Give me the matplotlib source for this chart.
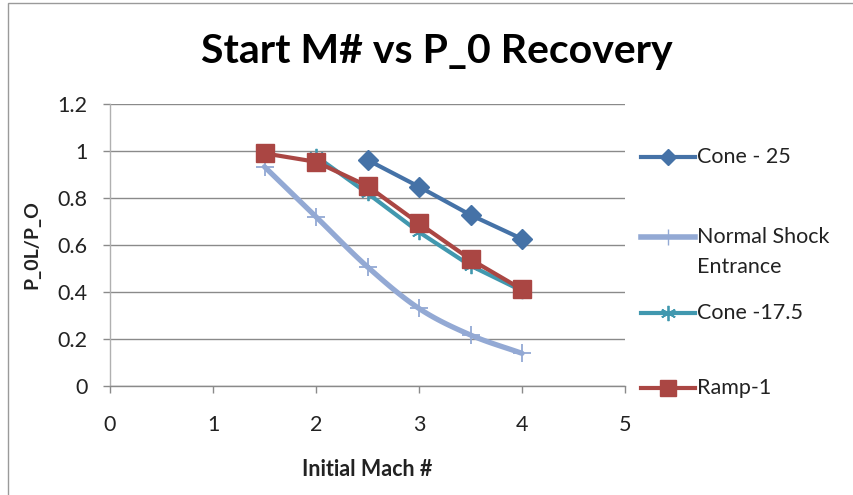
import numpy as np
import matplotlib
matplotlib.use("Agg")
import matplotlib.pyplot as plt
from matplotlib.lines import Line2D

# ---- data ----
cone25_x = [2.5, 3, 3.5, 4]
cone25_y = [0.962, 0.848, 0.728, 0.626]
normal_x = [1.5, 2, 2.5, 3, 3.5, 4]
normal_y = [0.933, 0.72, 0.507, 0.33, 0.217, 0.139]
cone175_x = [2, 2.5, 3, 3.5, 4]
cone175_y = [0.978, 0.82, 0.655, 0.512, 0.405]
ramp_x = [1.5, 2, 2.5, 3, 3.5, 4]
ramp_y = [0.99, 0.954, 0.851, 0.692, 0.539, 0.411]

series_names = ["Cone - 25", "Normal Shock\nEntrance", "Cone -17.5", "Ramp-1"]
x_ticks = [0, 1, 2, 3, 4, 5]
y_ticks = [0, 0.2, 0.4, 0.6, 0.8, 1, 1.2]
y_ticklabels = ["0", "0.2", "0.4", "0.6", "0.8", "1", "1.2"]

C_BLUE = "#4572A7"
C_LIGHT = "#93A9D4"
C_TEAL = "#4198AF"
C_RED = "#AA4643"
GRID = "#8A8A8A"

FONT = ["Lato", "DejaVu Sans"]
plt.rcParams['font.family'] = FONT
TXT = "#222222"


def smooth(x, y, n=20):
    # Catmull-Rom style rendering of a smoothed line through the data points
    x = np.asarray(x, float); y = np.asarray(y, float)
    px = np.concatenate([[2 * x[0] - x[1]], x, [2 * x[-1] - x[-2]]])
    py = np.concatenate([[2 * y[0] - y[1]], y, [2 * y[-1] - y[-2]]])
    ox, oy = [], []
    t = np.linspace(0, 1, n)
    for i in range(1, len(px) - 2):
        p0, p1, p2, p3 = [np.array([px[j], py[j]]) for j in (i - 1, i, i + 1, i + 2)]
        c = 0.5 * (2 * p1[:, None] + (-p0 + p2)[:, None] * t +
                   (2 * p0 - 5 * p1 + 4 * p2 - p3)[:, None] * t ** 2 +
                   (-p0 + 3 * p1 - 3 * p2 + p3)[:, None] * t ** 3)
        ox.extend(c[0]); oy.extend(c[1])
    return ox, oy


W, H = 854, 495
fig = plt.figure(figsize=(W / 100, H / 100), dpi=100)
L, R, T, B = 110, 625, 104, 386
ax = fig.add_axes([L / W, 1 - B / H, (R - L) / W, (B - T) / H])

ax.set_xlim(0, 5)
ax.set_ylim(0, 1.2)
ax.set_xticks(x_ticks)
ax.set_yticks(y_ticks)
ax.set_yticklabels(y_ticklabels)
ax.yaxis.grid(True, color=GRID, linewidth=1.0)
ax.set_axisbelow(True)
for s in ["top", "right"]:
    ax.spines[s].set_visible(False)
ax.spines["bottom"].set_color(GRID)
ax.spines["left"].set_color("#B0B0B0")
for s in ["left", "bottom"]:
    ax.spines[s].set_linewidth(1.0)
ax.tick_params(axis="both", colors=GRID, length=5, width=1, labelsize=15.5,
               labelcolor=TXT)
ax.tick_params(axis="y", pad=11)
ax.tick_params(axis="x", pad=16)

# series
sx, sy = smooth(normal_x, normal_y)
ax.plot(sx, sy, color=C_LIGHT, lw=3.8, solid_capstyle="round", zorder=2)
ax.plot(normal_x, normal_y, ls="none", marker="+", ms=13, mew=1.3, color=C_LIGHT, zorder=2)
ax.plot(cone175_x, cone175_y, color=C_TEAL, lw=3, marker=(6, 2, 0), ms=11, mew=1.3, zorder=3)
ax.plot(ramp_x, ramp_y, color=C_RED, lw=3, marker="s", ms=13, zorder=4)
ax.plot(cone25_x, cone25_y, color=C_BLUE, lw=3, marker="D", ms=10, zorder=5)

ax.set_xlabel("Initial Mach #", fontsize=15.5, fontweight="bold", color=TXT, va="center")
ax.xaxis.set_label_coords(0.5, (B - 470) / (B - T))
ax.set_ylabel("P_0L/P_O", fontsize=14, fontweight="bold", color=TXT, va="center")
ax.yaxis.set_label_coords((32 - L) / (R - L), 0.5)

fig.text(437 / W, 1 - 52 / H, "Start M# vs P_0 Recovery",
         ha="center", va="center", fontsize=29.5, fontweight="bold", color="black")

# legend (manual)
leg = [
    (157, C_BLUE, "D", 8, 1),
    (237, C_LIGHT, "|", 11, 1.0),
    (313, C_TEAL, (6, 2, 0), 11, 1.3),
    (388, C_RED, "s", 11, 1),
]
text_y = [157, 237, 313, 388]
for (yy, c, m, ms, mew), name, ty in zip(leg, series_names, text_y):
    yf = 1 - yy / H
    lw = 4 if c == C_LIGHT else 3
    fig.add_artist(Line2D([641 / W, 695 / W], [yf, yf], color=c, lw=lw,
                          transform=fig.transFigure))
    fig.add_artist(Line2D([668 / W], [yf], color=c, marker=m, ms=ms, mew=mew,
                          transform=fig.transFigure))
    if "\n" in name:
        fig.text(697 / W, 1 - (ty - 10) / H, name, ha="left", va="top",
                 fontsize=15.5, linespacing=1.6, color=TXT)
    else:
        fig.text(697 / W, 1 - ty / H, name, ha="left", va="center",
                 fontsize=15.5, color=TXT)

# outer border
fig.add_artist(plt.Rectangle((8 / W, -0.01), 1.2, 1 - 3 / H + 0.01, fill=False,
                             edgecolor="#9A9A9A", lw=1, transform=fig.transFigure))

fig.savefig("out.png", dpi=100)
